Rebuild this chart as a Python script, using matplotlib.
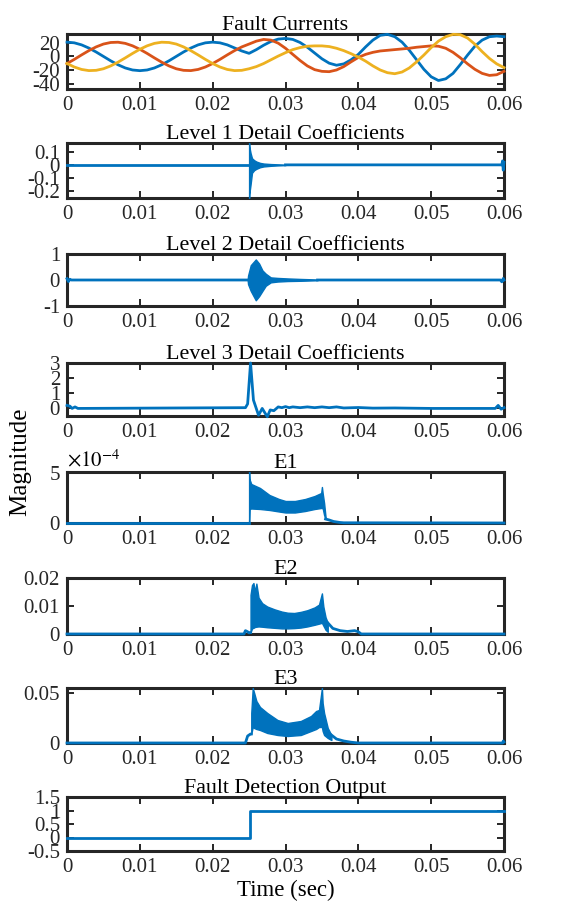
#wavelet fault detection figure, 8 stacked panels
import numpy as np
import matplotlib
matplotlib.use("Agg")
import matplotlib.pyplot as plt

plt.rcParams['font.family'] = ['Liberation Serif', 'DejaVu Serif']
plt.rcParams['mathtext.fontset'] = 'stix'
plt.rcParams['axes.unicode_minus'] = False

BLUE = '#0072BD'
RED = '#D95319'
YELLOW = '#EDB120'

# x axis shared by all panels
x_ticks = [0, 0.01, 0.02, 0.03, 0.04, 0.05, 0.06]
x_labels = ['0', '0.01', '0.02', '0.03', '0.04', '0.05', '0.06']

# fault currents, one sample per ms
t_ms = np.arange(61) / 1000.0
ia = [21, 20, 17, 12.3, 6.5, 0, -6.5, -12.3, -17, -20, -21, -20, -17, -12.3, -6.5, 0,
      6.5, 12.3, 17, 20, 21, 20, 17, 12.5, 8, 4.5, 10, 16.5, 22, 25.5, 26.5, 25, 20.5,
      13.5, 5, -3.5, -10, -13, -11, -5, 3, 14, 24, 31, 32.5, 29, 21, 9, -5, -19, -30,
      -35.5, -33, -25, -12, 2, 15, 24, 29, 30, 29]
ib = [-10.5, -4.4, 2.2, 8.5, 14, 18.2, 20.5, 20.9, 19.2, 15.6, 10.5, 4.4, -2.2, -8.5,
      -14, -18.2, -20.5, -20.9, -19.2, -15.6, -10.5, -4.4, 2.2, 8.5, 14, 18.2, 22.5, 25,
      24, 19.5, 12, 3, -6, -14, -19.5, -22, -22.5, -20, -15, -8, -1.5, 3, 6, 8, 9, 10,
      11, 12, 13.5, 14.5, 15.5, 15, 12, 6, -2, -11, -19, -25, -28, -27, -22]
ic = [-10.5, -15.6, -19.2, -20.9, -20.5, -18.2, -14, -8.5, -2.2, 4.4, 10.5, 15.6, 19.2,
      20.9, 20.5, 18.2, 14, 8.5, 2.2, -4.4, -10.5, -15.6, -19.2, -20.9, -20.5, -18.2,
      -15, -10.5, -5, 0.5, 5.5, 10, 13, 15, 15.5, 15.5, 14.5, 12, 8.5, 4, -1, -7, -14,
      -20, -24, -25.5, -23, -17, -8, 2, 13, 22.5, 29, 32.5, 32, 27, 18, 7, -3, -11, -16.5]

# level 1 detail: quiet parts before/after the burst, burst envelope
d1_pre_t = [0, 0.025]
d1_pre_v = [0, 0]
d1_post_t = [0.030, 0.0597, 0.0598, 0.0599, 0.06]
d1_post_v = [0, 0, 0.03, -0.04, 0.02]
d1_bt = [0.02500, 0.02503, 0.0252, 0.0254, 0.0257, 0.0260, 0.0265, 0.0270, 0.0280, 0.0290, 0.0300]
d1_hi = [0.165, 0.14, 0.09, 0.05, 0.035, 0.025, 0.015, 0.01, 0.006, 0.004, 0.002]
d1_lo = [-0.25, -0.22, -0.15, -0.06, -0.04, -0.03, -0.018, -0.012, -0.007, -0.004, -0.002]

# level 2 detail
d2_pre_t = [0, 0.0002, 0.0004, 0.0006, 0.0248]
d2_pre_v = [0.05, -0.06, 0.03, 0, 0]
d2_post_t = [0.0344, 0.0595, 0.0597, 0.0599, 0.06]
d2_post_v = [0, 0, -0.07, 0.06, 0]
d2_bt = [0.0248, 0.02486, 0.02523, 0.02592, 0.02638, 0.02683, 0.02729, 0.02798, 0.0289, 0.03028, 0.03211, 0.0344]
d2_hi = [0, 0.17, 0.57, 0.79, 0.63, 0.37, 0.24, 0.1, 0.08, 0.06, 0.04, 0.02]
d2_lo = [0, -0.16, -0.42, -0.78, -0.62, -0.42, -0.22, -0.09, -0.06, -0.04, -0.03, -0.01]

# level 3 detail
d3_t = [0, 0.0004, 0.0007, 0.0011, 0.0015, 0.0245, 0.0248, 0.0252, 0.0256, 0.0263, 0.0268,
        0.0275, 0.0279, 0.0284, 0.029, 0.0295, 0.030, 0.0305, 0.031, 0.032, 0.033, 0.034,
        0.035, 0.036, 0.037, 0.038, 0.040, 0.042, 0.045, 0.05, 0.0588, 0.0592, 0.0596, 0.06]
d3_v = [0.2, 0.15, 0.0, 0.1, 0, 0.05, 0.3, 3.0, 0.55, -0.45, 0.0, -0.55, -0.1, -0.15, 0.1,
        0.05, 0.12, 0.05, 0.1, 0.05, 0.1, 0.05, 0.1, 0.05, 0.1, 0.03, 0.06, 0.02, 0.03, 0.0,
        0.0, 0.2, -0.05, 0.05]

# E1 (units of 1e-4)
e1_pre_t = [0, 0.025]
e1_pre_v = [0, 0]
e1_post_t = [0.0355, 0.036, 0.0366, 0.0375, 0.038, 0.06]
e1_post_v = [0.4, 0.3, 0.15, 0.05, 0.02, 0]
e1_bt = [0.0250, 0.02505, 0.0253, 0.0265, 0.0278, 0.0291, 0.0300, 0.0313, 0.0327, 0.0340,
         0.0349, 0.0350, 0.0351, 0.0353, 0.0355]
e1_hi = [5.2, 4.4, 3.9, 3.5, 2.8, 2.4, 2.2, 2.2, 2.4, 2.7, 3.0, 3.6, 3.0, 2.0, 0.6]
e1_lo = [0, 1.4, 1.45, 1.4, 1.3, 1.15, 1.05, 1.05, 1.2, 1.4, 1.5, 1.5, 1.5, 0.8, 0.4]

# E2
e2_pre_t = [0, 0.0243, 0.0245, 0.0248, 0.025, 0.0252]
e2_pre_v = [0, 0, 0.0012, 0.0008, 0.0004, 0.0005]
e2_post_t = [0.0358, 0.0365, 0.0375, 0.0385, 0.0395, 0.040, 0.0404, 0.06]
e2_post_v = [0.004, 0.002, 0.0012, 0.0009, 0.0012, 0.0008, 0, 0]
e2_bt = [0.0252, 0.0254, 0.0256, 0.0258, 0.0260, 0.0263, 0.0268, 0.0275, 0.0285, 0.0295,
         0.0303, 0.0312, 0.0321, 0.0330, 0.0340, 0.0346, 0.0350, 0.0352, 0.0355, 0.0358]
e2_hi = [0.014, 0.0175, 0.0182, 0.015, 0.018, 0.013, 0.011, 0.0098, 0.0088, 0.008, 0.0076,
         0.0075, 0.0079, 0.0085, 0.0095, 0.0105, 0.0145, 0.0098, 0.006, 0.004]
e2_lo = [0.0005, 0.002, 0.0022, 0.0025, 0.0026, 0.0027, 0.0026, 0.0024, 0.0022, 0.002,
         0.002, 0.0021, 0.0023, 0.0027, 0.0033, 0.0037, 0.004, 0.003, 0.0015, 0.0008]

# E3
e3_pre_t = [0, 0.0245, 0.0248, 0.0252, 0.0253]
e3_pre_v = [0, 0, 0.007, 0.009, 0.009]
e3_post_t = [0.0363, 0.037, 0.038, 0.039, 0.040, 0.0598, 0.0599, 0.06]
e3_post_v = [0.008, 0.004, 0.002, 0.0008, 0, 0, 0.002, 0.001]
e3_bt = [0.0253, 0.0255, 0.0257, 0.0260, 0.0265, 0.0275, 0.0289, 0.0303, 0.0321, 0.0335,
         0.0342, 0.0346, 0.0350, 0.0351, 0.0353, 0.0358, 0.0363]
e3_hi = [0.03, 0.055, 0.05, 0.042, 0.036, 0.03, 0.023, 0.02, 0.022, 0.027, 0.032, 0.033,
         0.055, 0.04, 0.03, 0.015, 0.008]
e3_lo = [0.009, 0.016, 0.015, 0.014, 0.013, 0.01, 0.008, 0.007, 0.008, 0.012, 0.014, 0.016,
         0.016, 0.012, 0.008, 0.005, 0.003]

# detection output
det_t = [0, 0.0251, 0.0251, 0.06]
det_v = [0, 0, 1, 1]

titles = ['Fault Currents', 'Level 1 Detail Coefficients', 'Level 2 Detail Coefficients',
          'Level 3 Detail Coefficients', 'E1', 'E2', 'E3', 'Fault Detection Output']
y_ticks = [[-40, -20, 0, 20], [-0.2, -0.1, 0, 0.1], [-1, 0, 1], [0, 1, 2, 3],
           [0, 5e-4], [0, 0.01, 0.02], [0, 0.05], [-0.5, 0, 0.5, 1, 1.5]]
y_labels = [['-40', '-20', '0', '20'], ['-0.2', '-0.1', '0', '0.1'], ['-1', '0', '1'],
            ['0', '1', '2', '3'], ['0', '5'], ['0', '0.01', '0.02'], ['0', '0.05'],
            ['-0.5', '0', '0.5', '1', '1.5']]
y_lims = [(-48, 33), (-0.25, 0.165), (-1, 1), (-0.5, 3), (0, 5.1e-4), (0, 0.02),
          (0, 0.055), (-0.5, 1.5)]

# panel (top, bottom) in pixels of the 568x907 figure
W, H = 568.0, 907.0
rows = [(34, 89), (143, 198), (254, 306), (363, 416), (472, 523), (578, 634),
        (688, 743), (797, 851)]
left, right = 67, 504

fig = plt.figure(figsize=(W / 100, H / 100), dpi=100)
axes = []
for i, (top, bot) in enumerate(rows):
    ax = fig.add_axes([left / W, 1 - bot / H, (right - left) / W, (bot - top) / H])
    ax.set_xlim(0, 0.06)
    ax.set_ylim(*y_lims[i])
    ax.set_xticks(x_ticks)
    ax.set_xticklabels(x_labels)
    ax.set_yticks(y_ticks[i])
    ax.set_yticklabels(y_labels[i])
    ax.set_title(titles[i], fontsize=15.8, pad=3)
    ax.tick_params(direction='in', top=True, right=True, length=5, width=1.4,
                   labelsize=15, pad=5, colors='#262626')
    for s in ax.spines.values():
        s.set_linewidth(2.2)
        s.set_color('#262626')
    axes.append(ax)

lw = 2.0
kw = dict(lw=lw, zorder=3, clip_on=False)

ax = axes[0]
ax.plot(t_ms, ia, color=BLUE, **kw)
ax.plot(t_ms, ib, color=RED, **kw)
ax.plot(t_ms, ic, color=YELLOW, **kw)

bands = [(d1_pre_t, d1_pre_v, d1_post_t, d1_post_v, d1_bt, d1_lo, d1_hi, 1),
         (d2_pre_t, d2_pre_v, d2_post_t, d2_post_v, d2_bt, d2_lo, d2_hi, 1),
         (e1_pre_t, e1_pre_v, e1_post_t, e1_post_v, e1_bt, e1_lo, e1_hi, 1e-4),
         (e2_pre_t, e2_pre_v, e2_post_t, e2_post_v, e2_bt, e2_lo, e2_hi, 1),
         (e3_pre_t, e3_pre_v, e3_post_t, e3_post_v, e3_bt, e3_lo, e3_hi, 1)]
for ax, (pt, pv, qt, qv, bt, lo, hi, sc) in zip([axes[1], axes[2], axes[4], axes[5], axes[6]], bands):
    ax.plot(pt, np.array(pv) * sc, color=BLUE, **kw)
    ax.plot(qt, np.array(qv) * sc, color=BLUE, **kw)
    ax.fill_between(bt, np.array(lo) * sc, np.array(hi) * sc, color=BLUE,
                    lw=1.0, edgecolor=BLUE, zorder=3)

axes[3].plot(d3_t, d3_v, color=BLUE, **kw)
axes[7].plot(det_t, det_v, color=BLUE, **kw)

# MATLAB style exponent above E1
axes[4].text(0.0, 1.02, r'$\times10^{-4}$', transform=axes[4].transAxes,
             fontsize=15, ha='left', va='bottom')

axes[7].set_xlabel('Time (sec)', fontsize=16.5, labelpad=2)
fig.text(20 / W, 1 - 462 / H, 'Magnitude', rotation=90, fontsize=18,
         ha='center', va='center')

fig.savefig('out.png', dpi=100)
